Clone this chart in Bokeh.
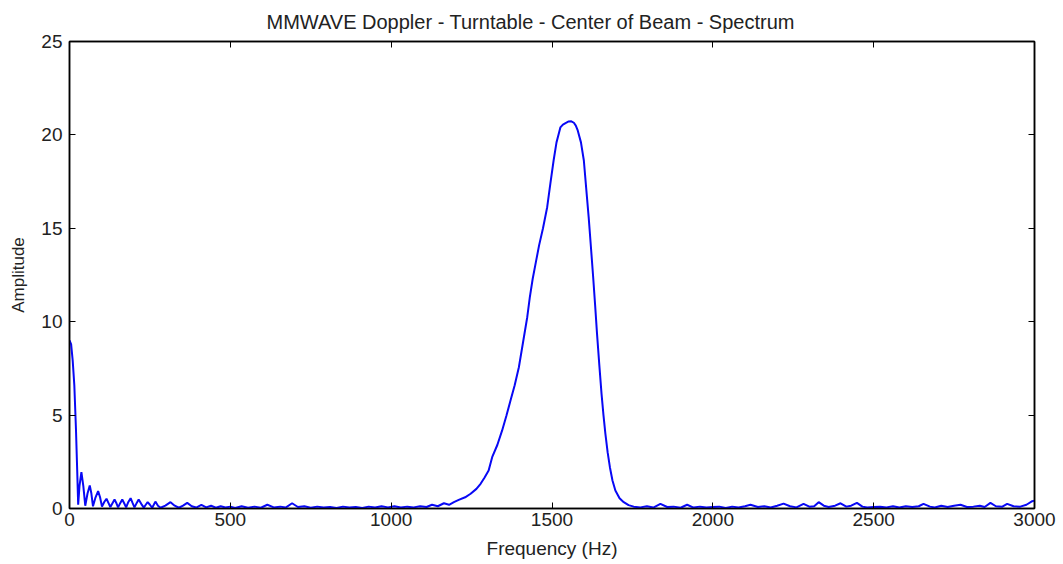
from bokeh.plotting import figure
from bokeh.models import LinearAxis, Range1d, FixedTicker
from bokeh.embed import file_html
from bokeh.resources import INLINE

title_text = "MMWAVE Doppler - Turntable - Center of Beam - Spectrum"
x_label = "Frequency (Hz)"
y_label = "Amplitude"
x_ticks = [0, 500, 1000, 1500, 2000, 2500, 3000]
y_ticks = [0, 5, 10, 15, 20, 25]

freq = [0, 5, 10, 15, 20, 24, 27, 31, 37, 43, 49, 56, 63, 68, 73, 81, 89, 95, 101,
        108, 115, 121, 127, 134, 140, 146, 151, 158, 164, 170, 176, 183, 190, 196,
        202, 209, 215, 223, 231, 237, 243, 250, 257, 262, 267, 275, 283, 298, 314,
        327, 340, 353, 366, 380, 394, 410, 425, 440, 455, 470, 485, 500, 515, 535,
        555, 575, 595, 615, 635, 655, 672, 692, 710, 730, 750, 770, 790, 810, 830,
        850, 870, 890, 910, 930, 950, 970, 990, 1010, 1030, 1050, 1070, 1090, 1110,
        1127, 1145, 1164, 1180, 1195, 1210, 1230, 1247, 1265, 1278, 1290, 1303, 1314,
        1330, 1345, 1358, 1371, 1384, 1397, 1410, 1423, 1431, 1440, 1450, 1460, 1472,
        1485, 1495, 1505, 1514, 1521, 1526, 1534, 1542, 1552, 1560, 1568, 1574, 1580,
        1590, 1599, 1606, 1614, 1621, 1628, 1634, 1640, 1647, 1654, 1660, 1666, 1673,
        1680, 1688, 1697, 1710, 1723, 1738, 1754, 1775, 1795, 1815, 1837, 1858, 1878,
        1900, 1920, 1940, 1960, 1980, 2000, 2020, 2040, 2060, 2080, 2100, 2117, 2140,
        2160, 2180, 2200, 2220, 2240, 2260, 2282, 2300, 2315, 2329, 2345, 2360, 2380,
        2397, 2415, 2430, 2448, 2465, 2480, 2500, 2520, 2540, 2560, 2580, 2600, 2620,
        2640, 2655, 2675, 2690, 2710, 2730, 2750, 2770, 2790, 2810, 2830, 2845, 2863,
        2880, 2900, 2915, 2935, 2956, 2975, 2993, 3000]

amplitude = [9.0, 8.8, 7.9, 6.6, 4.3, 2.0, 0.2, 1.2, 1.95, 1.2, 0.15, 0.8, 1.23, 0.8, 0.12,
             0.6, 0.93, 0.6, 0.1, 0.35, 0.52, 0.3, 0.08, 0.3, 0.48, 0.28, 0.06, 0.3, 0.48,
             0.28, 0.06, 0.35, 0.55, 0.3, 0.06, 0.3, 0.48, 0.25, 0.05, 0.2, 0.34, 0.2, 0.04,
             0.2, 0.37, 0.15, 0.04, 0.15, 0.34, 0.15, 0.04, 0.15, 0.3, 0.12, 0.05, 0.2, 0.06,
             0.15, 0.04, 0.12, 0.05, 0.1, 0.03, 0.12, 0.04, 0.1, 0.04, 0.2, 0.06, 0.1, 0.05,
             0.28, 0.08, 0.12, 0.04, 0.1, 0.05, 0.08, 0.03, 0.1, 0.05, 0.08, 0.03, 0.1, 0.05,
             0.12, 0.06, 0.12, 0.05, 0.1, 0.06, 0.12, 0.08, 0.2, 0.12, 0.28, 0.2, 0.34, 0.46,
             0.6, 0.79, 1.05, 1.32, 1.65, 2.03, 2.75, 3.4, 4.18, 4.95, 5.78, 6.6, 7.56, 8.9,
             10.24, 11.3, 12.3, 13.2, 14.1, 15.0, 16.13, 17.4, 18.63, 19.6, 20.06, 20.4,
             20.55, 20.63, 20.72, 20.73, 20.65, 20.5, 20.24, 19.6, 18.63, 17.2, 15.6, 14.0,
             12.38, 10.9, 9.35, 7.7, 6.14, 5.0, 4.0, 3.0, 2.21, 1.5, 0.96, 0.55, 0.34, 0.18,
             0.1, 0.06, 0.12, 0.05, 0.25, 0.08, 0.1, 0.04, 0.2, 0.05, 0.1, 0.06, 0.08, 0.1,
             0.03, 0.1, 0.05, 0.12, 0.2, 0.08, 0.12, 0.05, 0.15, 0.26, 0.12, 0.06, 0.25, 0.1,
             0.12, 0.34, 0.15, 0.08, 0.15, 0.28, 0.1, 0.15, 0.3, 0.1, 0.05, 0.08, 0.1, 0.06,
             0.12, 0.05, 0.12, 0.08, 0.12, 0.25, 0.1, 0.05, 0.15, 0.08, 0.15, 0.2, 0.08, 0.1,
             0.15, 0.08, 0.3, 0.12, 0.1, 0.25, 0.12, 0.1, 0.2, 0.39, 0.42]

FONT = "Liberation Sans"
TXT = "#222222"

p = figure(width=1063, height=564, output_backend="svg", toolbar_location=None,
           x_range=Range1d(0, 3000), y_range=Range1d(0, 25),
           min_border_left=69, min_border_right=29, min_border_top=41, min_border_bottom=56)
p.title.text = title_text
p.title.align = "left"
p.title.offset = 197
p.title.text_font = FONT
p.title.text_font_size = "20px"
p.title.text_font_style = "normal"
p.title.text_color = TXT
p.title.standoff = 17

p.xgrid.visible = False
p.ygrid.visible = False
p.outline_line_color = "black"
p.outline_line_width = 1.5
p.background_fill_color = "white"
p.border_fill_color = "white"

p.line(freq, amplitude, line_color="#0808f5", line_width=2)

for ax in (p.xaxis[0], p.yaxis[0]):
    ax.major_tick_in = 6
    ax.major_tick_out = 0
    ax.minor_tick_in = 0
    ax.minor_tick_out = 0
    ax.axis_line_color = "black"
    ax.axis_line_width = 1.5
    ax.major_tick_line_color = "black"
    ax.major_label_text_font = FONT
    ax.major_label_text_font_size = "19px"
    ax.major_label_text_color = TXT
    ax.axis_label_text_font = FONT
    ax.axis_label_text_font_style = "normal"
    ax.axis_label_text_color = TXT

p.xaxis[0].ticker = FixedTicker(ticks=x_ticks)
p.yaxis[0].ticker = FixedTicker(ticks=y_ticks)
p.xaxis[0].axis_label = x_label
p.yaxis[0].axis_label = y_label
p.xaxis[0].axis_label_text_font_size = "19px"
p.yaxis[0].axis_label_text_font_size = "17px"
p.xaxis[0].major_label_standoff = 4
p.yaxis[0].major_label_standoff = 7
p.xaxis[0].axis_label_standoff = 9
p.yaxis[0].axis_label_standoff = 10

right_ax = LinearAxis(ticker=FixedTicker(ticks=y_ticks), major_tick_in=6, major_tick_out=0,
                      minor_tick_in=0, minor_tick_out=0, axis_line_width=1.5,
                      major_label_overrides={t: "" for t in y_ticks})
top_ax = LinearAxis(ticker=FixedTicker(ticks=x_ticks), major_tick_in=6, major_tick_out=0,
                    minor_tick_in=0, minor_tick_out=0, axis_line_width=1.5,
                    major_label_overrides={t: "" for t in x_ticks})
p.add_layout(right_ax, "right")
p.add_layout(top_ax, "above")

open("out.html", "w").write(file_html(p, INLINE))
